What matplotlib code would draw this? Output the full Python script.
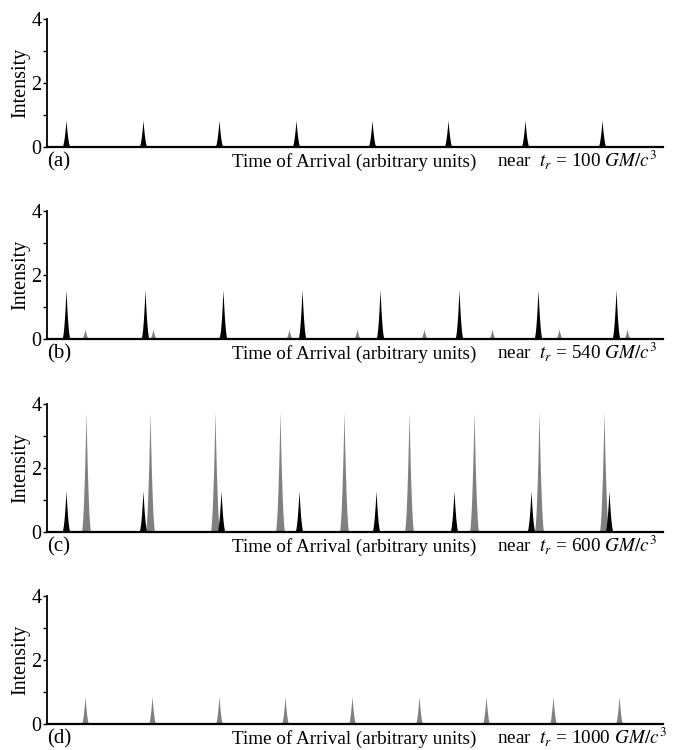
import numpy as np
import matplotlib
matplotlib.use("Agg")
import matplotlib.pyplot as plt
from matplotlib.ticker import MultipleLocator

plt.rcParams['font.family'] = ['Liberation Serif', 'DejaVu Serif']
plt.rcParams['mathtext.fontset'] = 'stix'

# ---- data (arbitrary time units 0..100) ----
panel_labels = ['(a)', '(b)', '(c)', '(d)']
panel_tr = ['100', '540', '600', '1000']

black_times = [
    [3.08, 15.58, 27.92, 40.42, 52.76, 65.10, 77.60, 90.10],
    [3.08, 15.91, 28.57, 41.40, 54.06, 66.88, 79.71, 92.37],
    [3.08, 15.58, 28.25, 40.91, 53.41, 66.07, 78.57, 91.23],
    [],
]
black_heights = [0.84, 1.55, 1.29, 0.0]

gray_times = [
    [],
    [6.17, 17.21, 28.25, 39.29, 50.32, 61.20, 72.24, 83.12, 94.16],
    [6.33, 16.72, 27.27, 37.82, 48.21, 58.77, 69.32, 79.87, 90.42],
    [6.17, 17.05, 27.92, 38.64, 49.51, 60.39, 71.27, 82.14, 92.86],
]
gray_heights = [0.0, 0.31, 3.76, 0.875]

ticks_major = [0, 2, 4]

# ---- figure ----
W, H = 676, 750
fig = plt.figure(figsize=(W / 100, H / 100), dpi=100)

left_px, right_px = 47, 663
bottoms_px = [147, 339, 532, 724]
panel_h_px = 128
PX = 0.72  # points per pixel at dpi 100

xgrid = np.linspace(0, 100, 40001)


def profile(times, heights_val, halfw):
    y = np.zeros_like(xgrid)
    for t in times:
        d = np.abs(xgrid - t) / halfw
        p = np.where(d < 1, (1 - d) ** 2.0, 0.0) * heights_val
        y = np.maximum(y, p)
    return y


FS_TICK = 14.5
FS_LAB = 14.5
FS_CAP = 13.8
BASE = -19.5 * PX
for i in range(4):
    b = bottoms_px[i]
    ax = fig.add_axes([left_px / W, 1 - b / H, (right_px - left_px) / W, panel_h_px / H])
    ax.set_xlim(0, 100)
    ax.set_ylim(0, 4)
    if gray_times[i]:
        hw = 0.8 if gray_heights[i] > 2 else 0.65
        yg = profile(gray_times[i], gray_heights[i], hw)
        ax.fill_between(xgrid, 0, yg, color='#808080', lw=0)
    if black_times[i]:
        yb = profile(black_times[i], black_heights[i], 0.7)
        ax.fill_between(xgrid, 0, yb, color='black', lw=0)
    for s in ['top', 'right']:
        ax.spines[s].set_visible(False)
    ax.spines['left'].set_linewidth(1.3)
    ax.spines['bottom'].set_linewidth(1.6)
    ax.set_xticks([])
    ax.set_yticks(ticks_major)
    ax.set_yticklabels([str(v) for v in ticks_major])
    ax.yaxis.set_minor_locator(MultipleLocator(1))
    ax.tick_params(axis='y', which='both', direction='out', length=3, width=1,
                   pad=1, labelsize=FS_TICK)
    ax.set_ylabel('Intensity', fontsize=FS_LAB, labelpad=1)
    ax.annotate(panel_labels[i], xy=(0, 0), xycoords='axes fraction',
                xytext=(0, BASE), textcoords='offset points',
                ha='left', va='baseline', fontsize=15)
    # "Time of Arrival" part, starting at ~232 px
    ax.annotate('Time of Arrival (arbitrary units)', xy=(0, 0), xycoords='axes fraction',
                xytext=((232 - left_px) * PX, BASE), textcoords='offset points',
                ha='left', va='baseline', fontsize=FS_CAP)
    # "near t_r = ..." part, starting at ~497 px
    ax.annotate('near  $t_r$ = ' + panel_tr[i] + r' $GM/c^3$',
                xy=(0, 0), xycoords='axes fraction',
                xytext=((497 - left_px) * PX, BASE), textcoords='offset points',
                ha='left', va='baseline', fontsize=FS_CAP)

fig.savefig('out.png', dpi=100)
